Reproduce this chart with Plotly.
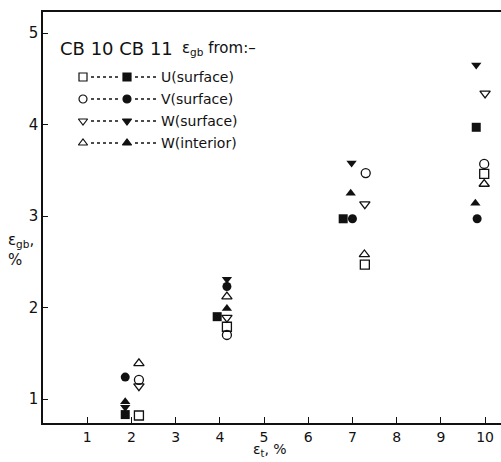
import plotly.graph_objects as go

# ---- data (CB 10 = open symbols, CB 11 = filled symbols) ----
series_names = ["U (surface)", "V (surface)", "W(surface)", "W(interior)"]
legend_labels = ["U(surface)", "V(surface)", "W(surface)", "W(interior)"]

cb10_U_x = [2.17, 4.16, 7.28, 9.98]
cb10_U_y = [0.82, 1.79, 2.47, 3.46]
cb10_V_x = [2.17, 4.16, 7.30, 9.98]
cb10_V_y = [1.21, 1.70, 3.47, 3.57]
cb10_Ws_x = [2.17, 4.16, 7.28, 10.00]
cb10_Ws_y = [1.14, 1.89, 3.13, 4.34]
cb10_Wi_x = [2.17, 4.16, 7.27, 9.98]
cb10_Wi_y = [1.39, 2.12, 2.58, 3.35]

cb11_U_x = [1.86, 3.94, 6.79, 9.80]
cb11_U_y = [0.83, 1.90, 2.97, 3.97]
cb11_V_x = [1.86, 4.16, 7.00, 9.82]
cb11_V_y = [1.24, 2.23, 2.97, 2.97]
cb11_Ws_x = [1.86, 4.16, 6.98, 9.80]
cb11_Ws_y = [0.91, 2.31, 3.58, 4.65]
cb11_Wi_x = [1.86, 4.16, 6.96, 9.78]
cb11_Wi_y = [0.97, 1.99, 3.25, 3.14]

x_ticks = [1, 2, 3, 4, 5, 6, 7, 8, 9, 10]
y_ticks = [1, 2, 3, 4, 5]

# ---- layout geometry ----
W, H = 501, 462
ML, MR, MT, MB = 43, 0, 12, 39
PW, PH = W - ML - MR, H - MT - MB
FONT = "DejaVu Sans"
INK = "#111111"


def px(xp):
    return (xp - ML) / PW


def py(yp):
    return (H - MB - yp) / PH


open_sym = ["square-open", "circle-open", "triangle-down-open", "triangle-up-open"]
fill_sym = ["square", "circle", "triangle-down", "triangle-up"]
open_data = [(cb10_U_x, cb10_U_y), (cb10_V_x, cb10_V_y), (cb10_Ws_x, cb10_Ws_y), (cb10_Wi_x, cb10_Wi_y)]
fill_data = [(cb11_U_x, cb11_U_y), (cb11_V_x, cb11_V_y), (cb11_Ws_x, cb11_Ws_y), (cb11_Wi_x, cb11_Wi_y)]

fig = go.Figure()
for i in range(4):
    fig.add_trace(go.Scatter(
        x=open_data[i][0], y=open_data[i][1], mode="markers", name="CB 10 " + series_names[i],
        marker=dict(symbol=open_sym[i], size=9, color=INK, line=dict(width=1.3, color=INK)),
        cliponaxis=False, showlegend=False))
    fig.add_trace(go.Scatter(
        x=fill_data[i][0], y=fill_data[i][1], mode="markers", name="CB 11 " + series_names[i],
        marker=dict(symbol=fill_sym[i], size=9, color=INK, line=dict(width=0)),
        cliponaxis=False, showlegend=False))

# legend keys on an overlay axis in pixel units
row_y = [77, 99, 121, 143]
for i in range(4):
    fig.add_trace(go.Scatter(
        x=[83, 127], y=[row_y[i], row_y[i]], xaxis="x2", yaxis="y2", mode="markers",
        marker=dict(symbol=[open_sym[i], fill_sym[i]], size=8, color=INK, line=dict(width=1.2, color=INK)),
        showlegend=False, hoverinfo="skip"))

shapes = []
annotations = []
for i in range(4):
    for (a, b) in [(91, 119), (135, 156)]:
        shapes.append(dict(type="line", xref="paper", yref="paper",
                           x0=px(a), x1=px(b), y0=py(row_y[i]), y1=py(row_y[i]),
                           line=dict(color=INK, width=1.3, dash="dot")))
    annotations.append(dict(text=legend_labels[i], xref="paper", yref="paper",
                            x=px(159), y=py(row_y[i]), xanchor="left", yanchor="middle",
                            showarrow=False, font=dict(family=FONT, size=14, color=INK)))

annotations.append(dict(text="CB 10 CB 11", xref="paper", yref="paper", x=px(58), y=py(48),
                        xanchor="left", yanchor="middle", showarrow=False,
                        font=dict(family=FONT, size=18, color=INK)))
annotations.append(dict(text="ε<sub>gb</sub> from:–", xref="paper", yref="paper", x=px(180), y=py(48),
                        xanchor="left", yanchor="middle", showarrow=False,
                        font=dict(family=FONT, size=15, color=INK)))
annotations.append(dict(text="ε<sub>gb</sub>,<br>%", xref="paper", yref="paper", x=px(6), y=py(250),
                        xanchor="left", yanchor="middle", align="left", showarrow=False,
                        font=dict(family=FONT, size=15, color=INK)))
annotations.append(dict(text="ε<sub>t</sub>, %", xref="paper", yref="paper", x=px(251), y=py(461),
                        xanchor="left", yanchor="bottom", showarrow=False,
                        font=dict(family=FONT, size=14, color=INK)))

fig.update_layout(
    width=W, height=H, margin=dict(l=ML, r=MR, t=MT, b=MB),
    paper_bgcolor="white", plot_bgcolor="white",
    font=dict(family=FONT, size=14, color=INK),
    xaxis=dict(range=[0, 10.36], tickvals=x_ticks, ticks="inside", ticklen=6, tickwidth=1.2,
               tickcolor=INK, showgrid=False, zeroline=False, showline=True, linecolor=INK,
               linewidth=1.5, mirror=True, tickfont=dict(size=14)),
    yaxis=dict(range=[0.738, 5.23], tickvals=y_ticks, ticks="inside", ticklen=5, tickwidth=1.2,
               tickcolor=INK, showgrid=False, zeroline=False, showline=True, linecolor=INK,
               linewidth=1.5, tickfont=dict(size=15)),
    xaxis2=dict(range=[ML, W - MR], overlaying="x", visible=False, fixedrange=True),
    yaxis2=dict(range=[H - MB, MT], overlaying="y", visible=False, fixedrange=True),
    shapes=shapes, annotations=annotations,
)

fig.write_html("out.html")
